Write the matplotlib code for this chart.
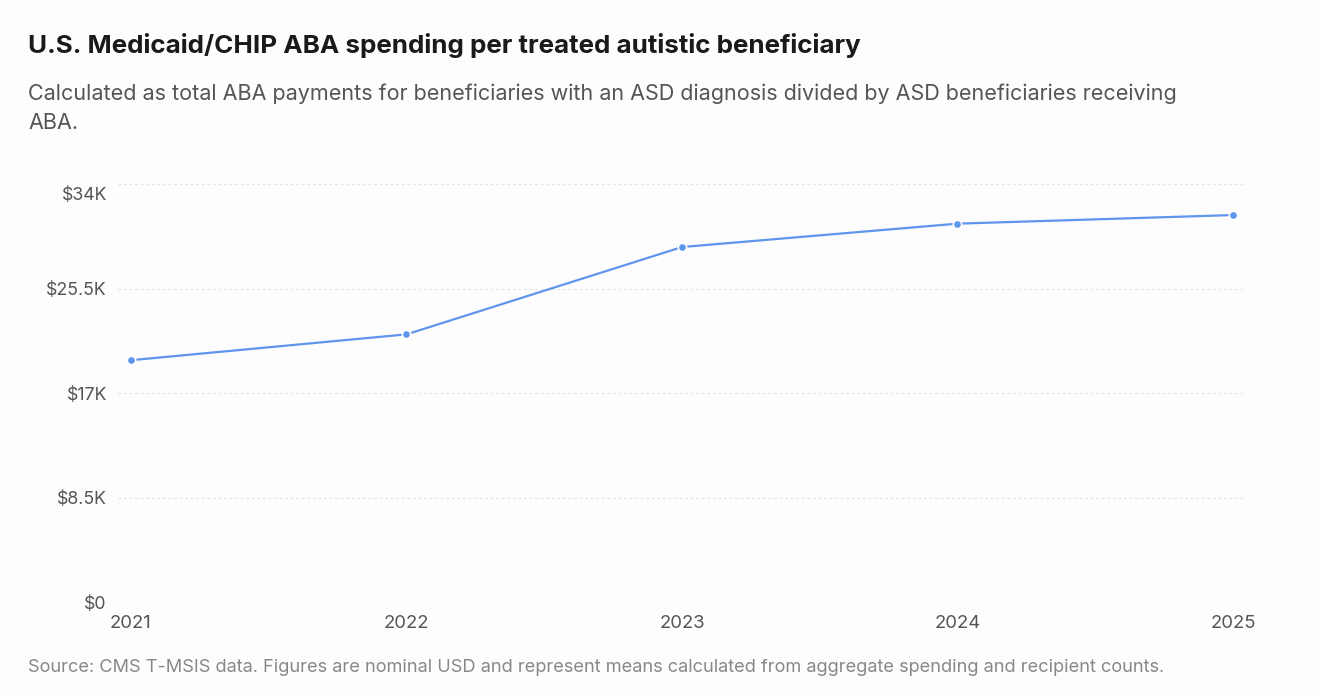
"""
Medicaid/CHIP ABA spending per treated autistic beneficiary
"""
import matplotlib.pyplot as plt
from matplotlib.ticker import FuncFormatter
import matplotlib.transforms as mtransforms

plt.rcParams['font.family'] = ['Inter', 'DejaVu Sans']

years = [2021, 2022, 2023, 2024, 2025]
spending = [19700, 21800, 28900, 30800, 31500]
y_ticks = [0, 8500, 17000, 25500, 34000]

TITLE = "U.S. Medicaid/CHIP ABA spending per treated autistic beneficiary"
SUBTITLE = ("Calculated as total ABA payments for beneficiaries with an ASD diagnosis divided by ASD beneficiaries receiving\n"
            "ABA.")
SOURCE = ("Source: CMS T-MSIS data. Figures are nominal USD and represent means calculated from aggregate "
          "spending and recipient counts.")

LINE_COLOR = '#5f95ec'
BG = '#fdfdfd'
W, H = 1322, 696


def fmt_dollars(v, pos):
    if v == 0:
        return '$0'
    k = v / 1000
    if k == int(k):
        return f'${int(k)}K'
    return f'${k:g}K'


def main():
    fig = plt.figure(figsize=(W / 100, H / 100), dpi=100, facecolor=BG)
    ax = fig.add_axes([118 / W, 1 - 602.5 / H, (1243 - 118) / W, (602.5 - 184.3) / H])
    ax.set_facecolor(BG)

    ax.plot(years, spending, color=LINE_COLOR, linewidth=1.6, marker='o', markersize=6,
            markerfacecolor=LINE_COLOR, markeredgecolor='white', markeredgewidth=1.2,
            solid_capstyle='round', zorder=3)

    px_per_year = (1233 - 131) / 4
    ax.set_xlim(2021 - 13 / px_per_year, 2025 + 10 / px_per_year)
    ax.set_ylim(0, 34000)
    ax.set_yticks(y_ticks)
    ax.yaxis.set_major_formatter(FuncFormatter(fmt_dollars))
    ax.set_xticks(years)
    ax.set_xticklabels([str(y) for y in years])

    ax.grid(axis='y', color='#e3e3e3', linestyle=(0, (2.5, 2.5)), linewidth=0.8)
    ax.grid(axis='x', visible=False)
    for s in ax.spines.values():
        s.set_visible(False)
    ax.tick_params(axis='both', length=0, labelcolor='#555555')
    ax.tick_params(axis='y', pad=8, labelsize=12.8)
    ax.tick_params(axis='x', pad=9, labelsize=13.3)

    # top label sits a bit below its gridline
    for lbl in ax.get_yticklabels():
        if lbl.get_text() == '$34K':
            lbl.set_transform(lbl.get_transform() +
                              mtransforms.ScaledTranslation(0, -9 / 100, fig.dpi_scale_trans))

    fig.text(28 / W, 1 - 45 / H, TITLE, fontsize=18.7, fontweight='bold', color='#1a1a1a',
             ha='left', va='center')
    fig.text(28 / W, 1 - 83 / H, SUBTITLE, fontsize=15.5, color='#555555',
             ha='left', va='top', linespacing=1.58)
    fig.text(28 / W, 1 - 668 / H, SOURCE, fontsize=13.1, color='#888888',
             ha='left', va='center')

    fig.savefig('out.png', dpi=100, facecolor=BG)


if __name__ == '__main__':
    main()
